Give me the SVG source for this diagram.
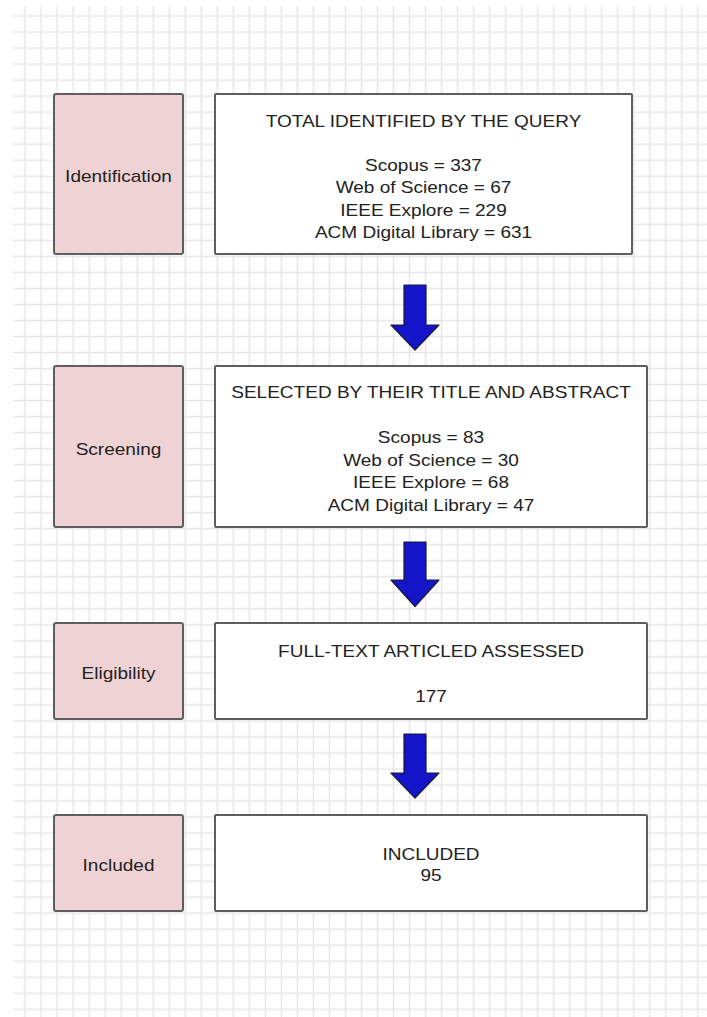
<svg xmlns="http://www.w3.org/2000/svg" width="707" height="1017" viewBox="0 0 707 1017">
<defs>
<pattern id="grid" patternUnits="userSpaceOnUse" x="1" y="-8" width="16.02" height="16.02">
<line x1="8" y1="0" x2="8" y2="16.02" stroke="#e6e6e6" stroke-width="1.5"/>
<line x1="0" y1="8" x2="16.02" y2="8" stroke="#e6e6e6" stroke-width="1.5"/>
</pattern>
<style>
.stage{fill:#efd3d4;stroke:#5e5e5e;stroke-width:2}
.box{fill:#ffffff;stroke:#5e5e5e;stroke-width:2}
text{font-family:"Liberation Sans",Arial,sans-serif;font-size:17px;fill:#222;text-anchor:middle}
.arrow{fill:#1414c8;stroke:#1a1a3a;stroke-width:1.2;stroke-linejoin:round}
</style>
</defs>
<rect width="707" height="1017" fill="#ffffff"/>
<rect x="13" y="6" width="694" height="1011" fill="url(#grid)"/>

<g id="identification">
<rect class="stage" x="54" y="94" width="129" height="160" rx="2"/>
<g transform="translate(118.5,0) scale(1.12,1)"><text x="0" y="182.3">Identification</text></g>
</g>
<g id="query">
<rect class="box" x="215" y="94" width="417" height="160" rx="1"/>
<g transform="translate(423.5,0) scale(1.12,1)">
<text x="0" y="126.7">TOTAL IDENTIFIED BY THE QUERY</text>
<text x="0" y="171">Scopus = 337</text>
<text x="0" y="193.4">Web of Science = 67</text>
<text x="0" y="215.8">IEEE Explore = 229</text>
<text x="0" y="238.2">ACM Digital Library = 631</text>
</g>
</g>

<g id="screening">
<rect class="stage" x="54" y="366" width="129" height="161" rx="2"/>
<g transform="translate(118.5,0) scale(1.12,1)"><text x="0" y="454.8">Screening</text></g>
</g>
<g id="selected">
<rect class="box" x="215" y="366" width="432" height="161" rx="1"/>
<g transform="translate(431,0) scale(1.12,1)">
<text x="0" y="397.7">SELECTED BY THEIR TITLE AND ABSTRACT</text>
<text x="0" y="443.3">Scopus = 83</text>
<text x="0" y="465.7">Web of Science = 30</text>
<text x="0" y="488.2">IEEE Explore = 68</text>
<text x="0" y="510.6">ACM Digital Library = 47</text>
</g>
</g>

<g id="eligibility">
<rect class="stage" x="54" y="623" width="129" height="96" rx="2"/>
<g transform="translate(118.5,0) scale(1.12,1)"><text x="0" y="679">Eligibility</text></g>
</g>
<g id="fulltext">
<rect class="box" x="215" y="623" width="432" height="96" rx="1"/>
<g transform="translate(431,0) scale(1.12,1)">
<text x="0" y="656.7">FULL-TEXT ARTICLED ASSESSED</text>
<text x="0" y="701.7">177</text>
</g>
</g>

<g id="included-stage">
<rect class="stage" x="54" y="815" width="129" height="96" rx="2"/>
<g transform="translate(118.5,0) scale(1.12,1)"><text x="0" y="871">Included</text></g>
</g>
<g id="included">
<rect class="box" x="215" y="815" width="432" height="96" rx="1"/>
<g transform="translate(431,0) scale(1.12,1)">
<text x="0" y="860">INCLUDED</text>
<text x="0" y="880.7">95</text>
</g>
</g>

<g id="connectors">
<polygon class="arrow" points="404,285 426,285 426,325 439,325 415,350 391,325 404,325"/>
<polygon class="arrow" points="404,542 426,542 426,580 439,580 415,606.5 391,580 404,580"/>
<polygon class="arrow" points="404,734 426,734 426,773 439,773 415,798 391,773 404,773"/>
</g>
</svg>
